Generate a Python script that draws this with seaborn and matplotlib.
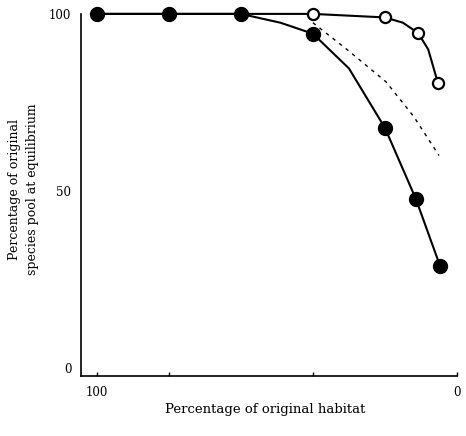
import numpy as np
import pandas as pd
import matplotlib
matplotlib.use("Agg")
import matplotlib.pyplot as plt
import seaborn as sns

# filled circles (observed points)
filled_x = [100, 80, 60, 40, 20, 11.4, 4.7]
filled_y = [100, 100, 100, 94.4, 67.8, 47.7, 28.8]

# trace of the filled curve
filled_curve_x = [100, 80, 60, 49, 40, 30, 20, 11.4, 4.7]
filled_curve_y = [100, 100, 100, 97.5, 94.4, 84.6, 67.8, 47.7, 28.8]

# open circles
open_x = [40, 20, 10.8, 5.3]
open_y = [100, 99, 94.6, 80.5]

open_curve_x = [100, 60, 40, 20, 15, 10.8, 8, 5.3]
open_curve_y = [100, 100, 100, 99, 97.5, 94.6, 90, 80.5]

# dotted curve
dotted_x = [40, 30, 19.7, 12, 5]
dotted_y = [97.5, 89.5, 80.8, 71, 60]

x_ticks = [100, 80, 40, 0]
x_ticklabels = ["100", "", "", "0"]
y_ticks = [0, 50, 100]

sns.set_style("ticks", {"axes.edgecolor": "black", "text.color": "black",
                        "xtick.color": "black", "ytick.color": "black",
                        "axes.labelcolor": "black"})
plt.rcParams["font.family"] = ["DejaVu Serif"]

fig = plt.figure(figsize=(4.66, 4.36), dpi=100)
ax = fig.add_axes([81 / 466, 1 - 376 / 436, (457 - 81) / 466, (376 - 10) / 436])

fc = pd.DataFrame({"x": filled_curve_x, "y": filled_curve_y})
oc = pd.DataFrame({"x": open_curve_x, "y": open_curve_y})
dc = pd.DataFrame({"x": dotted_x, "y": dotted_y})

sns.lineplot(data=oc, x="x", y="y", ax=ax, color="black", lw=1.5, sort=False,
             estimator=None, clip_on=False)
sns.lineplot(data=fc, x="x", y="y", ax=ax, color="black", lw=1.5, sort=False,
             estimator=None, clip_on=False)
sns.lineplot(data=dc, x="x", y="y", ax=ax, color="black", lw=1.0, sort=False,
             estimator=None, linestyle=(0, (2.5, 3.5)))

ax.plot(filled_x, filled_y, "o", color="black", ms=10, clip_on=False, zorder=5)
ax.plot(open_x, open_y, "o", mfc="white", mec="black", mew=1.6, ms=8,
        clip_on=False, zorder=5)

ax.set_xlim(104.4, 0)
ax.set_ylim(-2.26, 101.1)

ax.set_xticks(x_ticks)
ax.set_xticklabels(x_ticklabels)
ax.set_yticks(y_ticks)
ax.tick_params(axis="x", direction="in", length=3, width=1, labelsize=8.5, pad=7)
ax.tick_params(axis="y", length=0, labelsize=8.5, pad=7)

sns.despine(ax=ax)
ax.spines["left"].set_bounds(-2.26, 100)
ax.spines["left"].set_linewidth(1.2)
ax.spines["bottom"].set_linewidth(1.2)

ax.set_xlabel("Percentage of original habitat", fontsize=9.5)
ax.xaxis.set_label_coords(0.489, -0.075)
ax.set_ylabel("Percentage of original\nspecies pool at equilibrium", fontsize=9,
              linespacing=1.5)
ax.yaxis.set_label_coords(-0.112, 0.51)

fig.savefig("out.png", dpi=100)
